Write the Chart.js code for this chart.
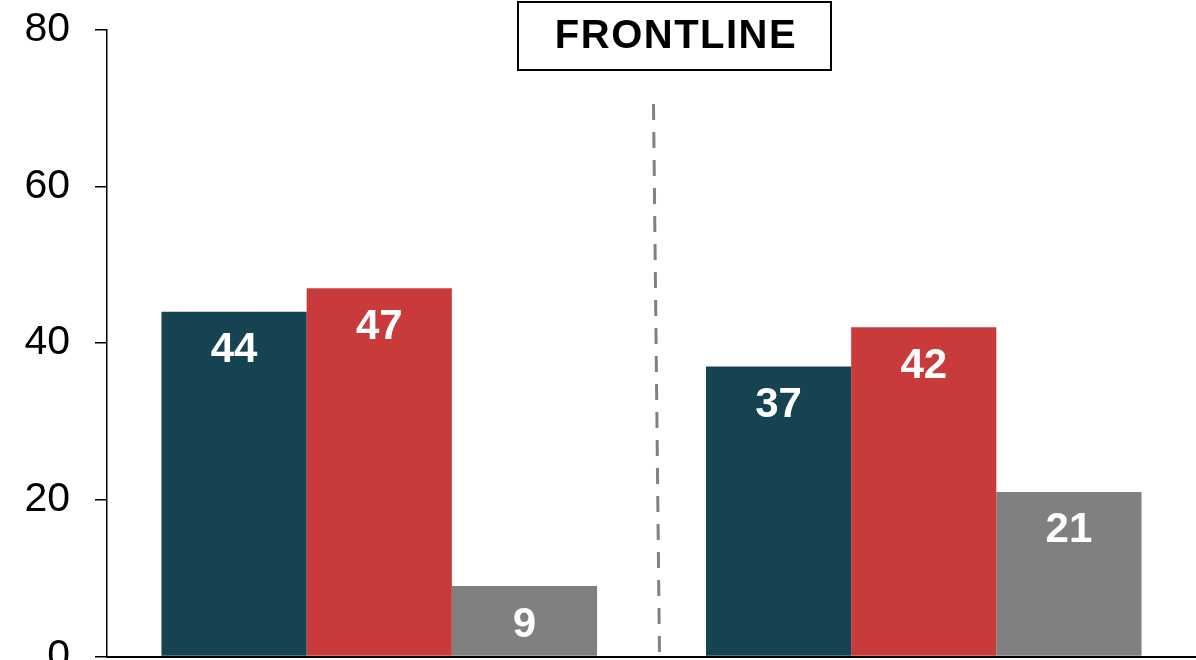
<!DOCTYPE html>
<html>
<head>
<meta charset="utf-8">
<script src="https://cdn.jsdelivr.net/npm/chart.js@4/dist/chart.umd.min.js"></script>
<style>
  html, body { margin: 0; padding: 0; background: #fff; overflow: hidden; }
  #wrap { position: relative; width: 1196px; height: 660px; }
</style>
</head>
<body>
<div id="wrap"><canvas id="chart"></canvas></div>
<script>
const groups = ['Group A', 'Group B'];
const seriesNames = ['Series 1', 'Series 2', 'Series 3'];
const series1 = [44, 37];
const series2 = [47, 42];
const series3 = [9, 21];
const yTicks = [0, 20, 40, 60, 80];
const panelTitle = 'FRONTLINE';

const FONT = "'Liberation Sans', Arial, sans-serif";
const colors = ['#154352', '#c83b3a', '#808080'];

// white value labels inside the top of each bar
const barLabels = {
  id: 'barLabels',
  afterDatasetsDraw(chart) {
    const { ctx } = chart;
    ctx.save();
    ctx.fillStyle = '#fff';
    ctx.font = `bold 42px ${FONT}`;
    ctx.textAlign = 'center';
    ctx.textBaseline = 'middle';
    chart.data.datasets.forEach((ds, i) => {
      chart.getDatasetMeta(i).data.forEach((bar, j) => {
        ctx.fillText(String(ds.data[j]), bar.x, bar.y + 39);
      });
    });
    ctx.restore();
  }
};

// dashed divider between the two groups
const divider = {
  id: 'divider',
  afterDatasetsDraw(chart) {
    const { ctx, scales } = chart;
    const mid = (scales.x.getPixelForValue(0) + scales.x.getPixelForValue(1)) / 2;
    ctx.save();
    ctx.strokeStyle = '#808080';
    ctx.lineWidth = 3;
    ctx.setLineDash([16, 12]);
    ctx.beginPath();
    ctx.moveTo(mid + 2, scales.y.getPixelForValue(70.5));
    ctx.lineTo(mid + 8, scales.y.getPixelForValue(0));
    ctx.stroke();
    ctx.restore();
  }
};

// boxed panel title
const titleBox = {
  id: 'titleBox',
  afterDraw(chart) {
    const { ctx } = chart;
    ctx.save();
    ctx.fillStyle = '#fff';
    ctx.fillRect(518, 2, 313, 68);
    ctx.strokeStyle = '#000';
    ctx.lineWidth = 2;
    ctx.strokeRect(518, 2, 313, 68);
    ctx.fillStyle = '#000';
    ctx.font = `bold 40px ${FONT}`;
    ctx.letterSpacing = '1.5px';
    ctx.textAlign = 'center';
    ctx.textBaseline = 'middle';
    ctx.fillText(panelTitle, 676, 37);
    ctx.restore();
  }
};

const data = {
  labels: groups,
  datasets: [
    { label: seriesNames[0], data: series1, backgroundColor: colors[0] },
    { label: seriesNames[1], data: series2, backgroundColor: colors[1] },
    { label: seriesNames[2], data: series3, backgroundColor: colors[2] }
  ]
};

const config = {
  type: 'bar',
  data,
  options: {
    responsive: true,
    maintainAspectRatio: false,
    animation: false,
    events: [],
    layout: { padding: { top: 29.5, bottom: 3.5, left: 0, right: 0 } },
    datasets: {
      bar: { categoryPercentage: 0.8, barPercentage: 1.0, borderWidth: 0 }
    },
    plugins: {
      legend: { display: false },
      tooltip: { enabled: false },
      title: { display: false }
    },
    scales: {
      x: {
        grid: { display: false, drawTicks: false },
        ticks: { display: false },
        border: { display: true, color: '#000', width: 2 }
      },
      y: {
        min: 0,
        max: 80,
        afterBuildTicks(scale) {
          scale.ticks = yTicks.map((v) => ({ value: v }));
        },
        afterFit(scale) {
          scale.width = 107;
          scale.paddingTop = 0;
          scale.paddingBottom = 0;
        },
        grid: { drawOnChartArea: false, drawTicks: true, tickLength: 12, color: '#000', lineWidth: 1.5 },
        border: { display: true, color: '#000', width: 1.5 },
        ticks: {
          color: '#000',
          padding: 25,
          font: { family: FONT, size: 41 }
        }
      }
    }
  },
  plugins: [barLabels, divider, titleBox]
};

const chart = new Chart(document.getElementById('chart'), config); /* eslint-disable-line no-unused-vars */
</script>
</body>
</html>
